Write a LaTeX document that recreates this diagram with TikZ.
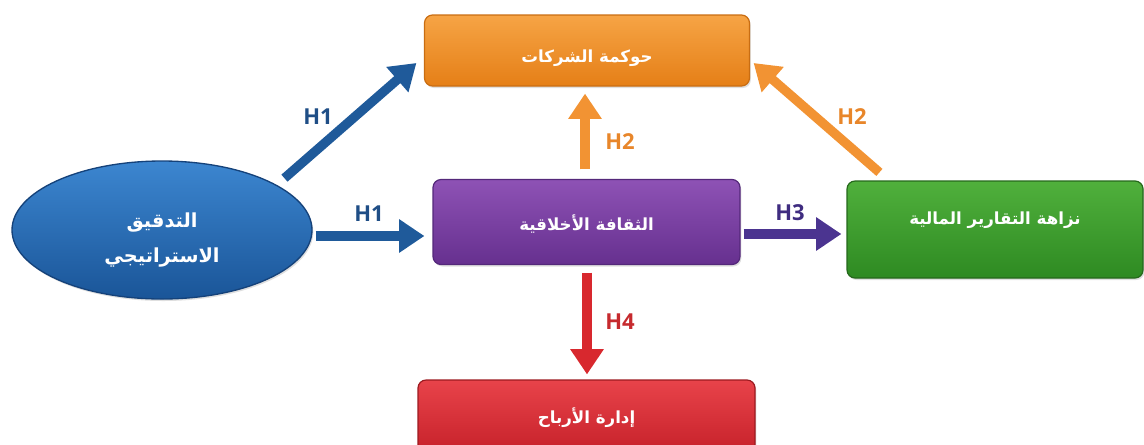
\documentclass[tikz,border=0pt]{standalone}
\usepackage{fontspec}
\setmainfont{Open Sans}
\newfontfamily\arabicfont[Script=Arabic]{DejaVu Sans}
\TeXXeTstate=1
\usetikzlibrary{arrows.meta,calc,shapes.geometric,shadows}
\definecolor{blueT}{HTML}{3C86D0}
\definecolor{blueB}{HTML}{1A5598}
\definecolor{blueD}{HTML}{15427A}
\definecolor{orangeT}{HTML}{F6A445}
\definecolor{orangeB}{HTML}{E57F17}
\definecolor{orangeD}{HTML}{C96D12}
\definecolor{purpleT}{HTML}{8E52B5}
\definecolor{purpleB}{HTML}{66308F}
\definecolor{purpleD}{HTML}{54287A}
\definecolor{greenT}{HTML}{50B03C}
\definecolor{greenB}{HTML}{2E8A22}
\definecolor{greenD}{HTML}{25681B}
\definecolor{redT}{HTML}{E8434A}
\definecolor{redB}{HTML}{C31E27}
\definecolor{redD}{HTML}{9C1A20}
\definecolor{bluearr}{HTML}{1F5A9A}
\definecolor{bluelab}{HTML}{1F4E86}
\definecolor{orangearr}{HTML}{F29333}
\definecolor{orangelab}{HTML}{E8862A}
\definecolor{purplearr}{HTML}{4B3490}
\definecolor{purplelab}{HTML}{3F2C80}
\definecolor{redarr}{HTML}{D8282E}
\definecolor{redlab}{HTML}{C62A2E}
\newcommand{\ctrtext}[2]{\makebox[0pt]{\raisebox{#1}[0pt][0pt]{#2}}}
\tikzset{
  boxstyle/.style={rounded corners=6pt, line width=0.9pt, inner sep=0pt,
    text=white, font=\arabicfont\bfseries\fontsize{12.5}{15}\selectfont,
    drop shadow={opacity=0.25, shadow xshift=1pt, shadow yshift=-1.5pt}},
  arr/.style={line width=7pt, -{Triangle[width=24pt,length=19pt]}},
  hlabel/.style={font=\bfseries\fontsize{16.5}{18}\selectfont, inner sep=0pt}
}
\begin{document}
\begin{tikzpicture}[x=0.75pt,y=-0.75pt]
\useasboundingbox (0,0) rectangle (1144,444);
\clip (0,0) rectangle (1144,444);

\node[ellipse, draw=blueD, line width=1pt, top color=blueT, bottom color=blueB,
  minimum width=225pt, minimum height=103.5pt, inner sep=0pt,
  text=white, font=\arabicfont\bfseries\fontsize{14.5}{21}\selectfont,
  drop shadow={opacity=0.25, shadow xshift=1pt, shadow yshift=-1.5pt}]
  (blue) at (162,230) {\ctrtext{2pt}{\beginR التدقيق\endR}\ctrtext{-24pt}{\beginR الاستراتيجي\endR}};

\node[boxstyle, draw=orangeD, top color=orangeT, bottom color=orangeB,
  minimum width=243.75pt, minimum height=53.25pt]
  (orange) at (587,50.5) {\ctrtext{-9pt}{\beginR حوكمة الشركات\endR}};

\node[boxstyle, draw=purpleD, top color=purpleT, bottom color=purpleB,
  minimum width=230.25pt, minimum height=63.75pt]
  (purple) at (586.5,222) {\ctrtext{-6pt}{\beginR الثقافة الأخلاقية\endR}};

\node[boxstyle, draw=greenD, top color=greenT, bottom color=greenB,
  minimum width=222pt, minimum height=72.75pt]
  (green) at (995,229.5) {\ctrtext{3.4pt}{\beginR نزاهة التقارير المالية\endR}};

\node[boxstyle, draw=redD, top color=redT, bottom color=redB,
  minimum width=252.75pt, minimum height=60pt]
  (red) at (586.5,420) {\ctrtext{-2.5pt}{\beginR إدارة الأرباح\endR}};

% arrows
\draw[arr, bluearr] ($(blue.22)+(9,-6)$) -- ($(orange.west)+(-7.5,12.5)$);
\draw[arr, bluearr] ($(blue.east)+(3,6)$) -- ($(purple.west)+(-8,14)$);
\draw[arr, orangearr] ($(purple.north)+(-1.5,-9.5)$) -- ($(orange.south)+(-2,7)$);
\draw[arr, orangearr] ($(green.north west)+(33,-8)$) -- ($(orange.east)+(3.5,12.5)$);
\draw[arr, purplearr] ($(purple.east)+(3,12)$) -- ($(green.west)+(-5,4.5)$);
\draw[arr, redarr] ($(purple.south)+(0.5,7.5)$) -- ($(red.north)+(0.5,-5)$);

% labels
\node[hlabel, text=bluelab] (lh1a) at (318,117) {H1};
\node[hlabel, text=bluelab] (lh1b) at (369,214) {H1};
\node[hlabel, text=orangelab] (lh2a) at (620,142) {H2};
\node[hlabel, text=orangelab] (lh2b) at (852,117) {H2};
\node[hlabel, text=purplelab] (lh3) at (790,213) {H3};
\node[hlabel, text=redlab] (lh4) at (620,322) {H4};
\end{tikzpicture}
\end{document}
